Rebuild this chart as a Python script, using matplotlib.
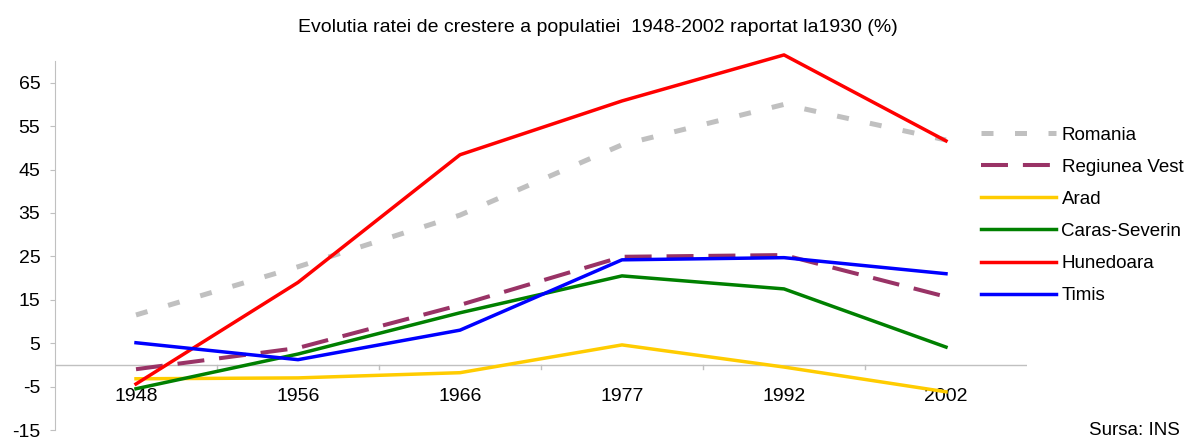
import matplotlib.pyplot as plt
import numpy as np

plt.rcParams['font.family'] = ['Liberation Sans', 'DejaVu Sans']
plt.rcParams['axes.unicode_minus'] = False

years = ['1948', '1956', '1966', '1977', '1992', '2002']

romania       = [11.5, 22.6, 34.5, 50.7, 60.0, 51.8]
regiunea_vest = [-1.0, 3.9, 13.8, 24.9, 25.3, 15.7]
arad          = [-3.2, -3.0, -1.8, 4.6, -0.5, -6.2]
caras         = [-5.5, 2.5, 12.0, 20.5, 17.5, 4.1]
hunedoara     = [-4.4, 19.0, 48.4, 60.8, 71.4, 51.6]
timis         = [5.1, 1.2, 8.0, 24.2, 24.7, 21.0]

yticks = [-15, -5, 5, 15, 25, 35, 45, 55, 65]

fig = plt.figure(figsize=(11.96, 4.4), dpi=100)
ax = fig.add_axes([55/1196, 1 - 430/440, (1027 - 55)/1196, (430 - 61)/440])

x = np.arange(len(years))
lw = 2.5
ax.plot(x, romania, color='#c0c0c0', lw=3.6, dashes=(2.4, 4.3), label='Romania', clip_on=False)
ax.plot(x, regiunea_vest, color='#993366', lw=2.9, dashes=(6.7, 3.7), label='Regiunea Vest', clip_on=False)
ax.plot(x, arad, color='#ffcc00', lw=lw, label='Arad', clip_on=False)
ax.plot(x, caras, color='#008000', lw=lw, label='Caras-Severin', clip_on=False)
ax.plot(x, hunedoara, color='#ff0000', lw=lw, label='Hunedoara', clip_on=False)
ax.plot(x, timis, color='#0000ff', lw=lw, label='Timis', clip_on=False)

ax.set_xlim(-0.5, len(years) - 0.5)
ax.set_ylim(-15, 70)
ax.set_yticks(yticks)
ax.tick_params(axis='y', labelsize=14, length=3.5, color='#c0c0c0', pad=7)

# category axis sits on the zero line
ax.axhline(0, color='#c0c0c0', lw=1, zorder=0)
for i in range(1, len(years)):
    ax.plot([i - 0.5, i - 0.5], [0, -1], color='#c0c0c0', lw=1, zorder=0)
ax.set_xticks([])
for i, yr in enumerate(years):
    ax.text(i, -5.4, yr, ha='center', va='top', fontsize=14, zorder=0)

for s in ['top', 'right', 'bottom']:
    ax.spines[s].set_visible(False)
ax.spines['left'].set_color('#c0c0c0')

fig.text(0.5, 1 - 28/440, 'Evolutia ratei de crestere a populatiei  1948-2002 raportat la1930 (%)',
         ha='center', va='center', fontsize=14)
fig.text(1180/1196, 1 - 430/440, 'Sursa: INS', ha='right', va='center', fontsize=13.5)

fig.legend(loc='upper left', bbox_to_anchor=(973/1196, 1 - 119/440), frameon=False,
           fontsize=13.5, handlelength=4.05, labelspacing=0.8, handletextpad=0.27,
           borderpad=0.4, borderaxespad=0)

fig.savefig('out.png', dpi=100)
